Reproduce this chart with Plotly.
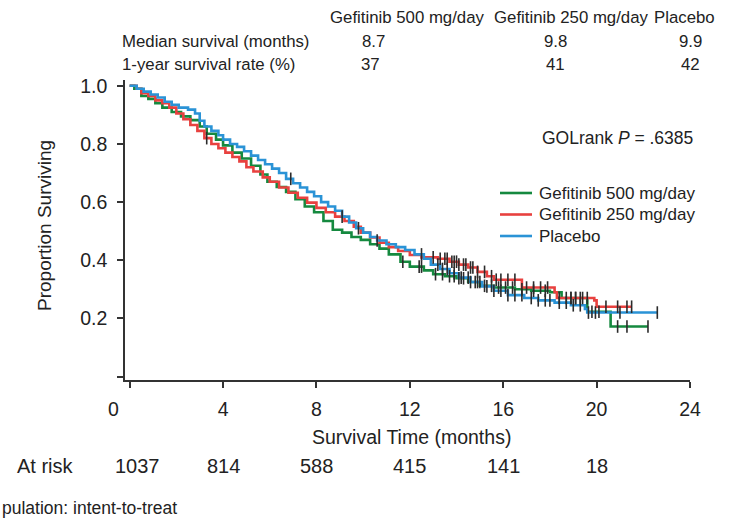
import numpy as np
import plotly.graph_objects as go

# Kaplan-Meier step data (months, proportion surviving)
t_500 = [0, 0.2, 0.5, 0.8, 1.1, 1.4, 1.8, 2.2, 2.6, 3.0, 3.3, 3.7, 4.0, 4.4, 4.8, 5.2,
         5.6, 5.9, 6.3, 6.7, 7.1, 7.5, 7.9, 8.3, 8.7, 9.1, 9.5, 9.9, 10.3, 10.7, 11.1,
         11.6, 12.0, 12.6, 13.0, 13.5, 14.0, 14.5, 15.0, 15.6, 16.5, 17.2, 18.0, 18.5,
         19.6, 20.6]
s_500 = [1.0, 0.99, 0.965, 0.955, 0.94, 0.925, 0.91, 0.895, 0.882, 0.86, 0.835, 0.815,
         0.795, 0.77, 0.75, 0.725, 0.695, 0.67, 0.652, 0.635, 0.61, 0.585, 0.565, 0.535,
         0.505, 0.495, 0.48, 0.47, 0.455, 0.44, 0.42, 0.395, 0.378, 0.365, 0.352, 0.345,
         0.338, 0.325, 0.312, 0.306, 0.30, 0.295, 0.29, 0.27, 0.223, 0.172]
end_500 = 22.2

t_250 = [0, 0.3, 0.5, 0.8, 1.1, 1.4, 1.7, 2.0, 2.3, 2.6, 2.9, 3.2, 3.5, 3.8, 4.1, 4.4,
         4.7, 5.0, 5.3, 5.7, 6.0, 6.4, 6.8, 7.2, 7.6, 8.0, 8.4, 8.8, 9.2, 9.6, 9.9, 10.3,
         10.7, 11.1, 11.5, 12.0, 12.5, 13.2, 13.7, 14.1, 14.5, 14.9, 15.3, 15.6, 16.8,
         18.2, 18.3, 19.9, 20.0]
s_250 = [1.0, 0.99, 0.975, 0.965, 0.95, 0.94, 0.925, 0.905, 0.885, 0.865, 0.845, 0.82,
         0.80, 0.785, 0.77, 0.755, 0.74, 0.72, 0.705, 0.685, 0.67, 0.65, 0.632, 0.615,
         0.598, 0.58, 0.565, 0.55, 0.535, 0.515, 0.495, 0.478, 0.46, 0.445, 0.432, 0.418,
         0.41, 0.405, 0.395, 0.385, 0.375, 0.36, 0.345, 0.333, 0.306, 0.29, 0.27, 0.262,
         0.24]
end_250 = 21.5

t_pla = [0, 0.3, 0.6, 0.9, 1.2, 1.5, 1.8, 2.1, 2.5, 2.8, 3.0, 3.2, 3.5, 3.8, 4.0, 4.3,
         4.6, 4.9, 5.2, 5.5, 5.8, 6.1, 6.4, 6.7, 7.0, 7.3, 7.6, 7.9, 8.2, 8.5, 8.8, 9.1,
         9.4, 9.7, 10.0, 10.3, 10.6, 11.0, 11.4, 11.8, 12.2, 12.6, 12.9, 13.3, 13.7, 14.1,
         14.6, 15.1, 15.6, 16.2, 16.9, 17.5, 18.2, 18.9, 19.5, 19.6]
s_pla = [1.0, 0.99, 0.98, 0.97, 0.96, 0.945, 0.935, 0.925, 0.918, 0.905, 0.88, 0.86,
         0.845, 0.83, 0.815, 0.80, 0.79, 0.775, 0.76, 0.745, 0.73, 0.715, 0.70, 0.68,
         0.665, 0.65, 0.635, 0.62, 0.60, 0.585, 0.57, 0.55, 0.53, 0.51, 0.495, 0.48,
         0.468, 0.455, 0.445, 0.435, 0.42, 0.405, 0.385, 0.37, 0.355, 0.34, 0.325, 0.31,
         0.295, 0.28, 0.27, 0.262, 0.254, 0.245, 0.232, 0.22]
end_pla = 22.6

# Censoring times (months)
c_500 = [11.7, 12.4, 12.5, 13.1, 13.4, 13.7, 13.9, 14.1, 14.3, 14.6, 14.9, 15.2, 15.5,
         15.8, 16.1, 16.4, 16.8, 17.3, 17.8, 18.7, 18.9, 19.1, 19.3, 19.8, 20.1, 20.9,
         21.3, 22.2]
c_250 = [3.3, 9.1, 13.0, 13.3, 13.5, 13.6, 13.8, 13.9, 14.0, 14.1, 14.3, 14.4, 14.6,
         14.7, 14.9, 15.2, 15.5, 15.7, 15.9, 16.2, 16.5, 17.0, 17.3, 17.6, 17.9, 18.4,
         18.9, 19.1, 19.4, 19.6, 20.4, 20.9, 21.3, 21.5]
c_pla = [6.9, 9.8, 10.6, 12.5, 13.2, 13.4, 13.6, 13.9, 14.2, 14.5, 14.8, 15.0, 15.3,
         15.6, 15.9, 16.2, 16.5, 16.8, 17.2, 17.5, 17.8, 18.0, 18.4, 18.7, 19.0, 19.3,
         19.65, 19.95, 21.0, 22.6]

arms = ["Gefitinib 500 mg/day", "Gefitinib 250 mg/day", "Placebo"]
median_surv = ["8.7", "9.8", "9.9"]
one_year = ["37", "41", "42"]
risk_times = [0, 4, 8, 12, 16, 20]
at_risk = [1037, 814, 588, 415, 141, 18]

x_ticks = [0, 4, 8, 12, 16, 20, 24]
y_ticks = [0, 0.2, 0.4, 0.6, 0.8, 1.0]

colors = ["#15893f", "#e8413f", "#2a93d6"]
FONT = "Liberation Sans, Arial, sans-serif"
INK = "#222222"

W, H = 745, 519
ML, MR, MT, MB = 125, 55, 80, 139
PW, PH = W - ML - MR, H - MT - MB


def px(x):
    return (x - ML) / PW


def py(y):
    return (H - MB - y) / PH


def step_xy(t, s, end):
    return list(t) + [end], list(s) + [s[-1]]


def censor_y(t, s, c):
    t = np.asarray(t)
    idx = np.searchsorted(t, np.asarray(c), side="right") - 1
    return np.asarray(s)[idx]


fig = go.Figure()
series = [(t_500, s_500, end_500, c_500), (t_250, s_250, end_250, c_250),
          (t_pla, s_pla, end_pla, c_pla)]
for name, col, (t, s, e, c) in zip(arms, colors, series):
    xs, ys = step_xy(t, s, e)
    fig.add_trace(go.Scatter(x=xs, y=ys, mode="lines", line_shape="hv",
                             line=dict(color=col, width=2.6), name=name,
                             showlegend=False))
for col, (t, s, e, c) in zip(colors, series):
    fig.add_trace(go.Scatter(x=c, y=censor_y(t, s, c), mode="markers", showlegend=False,
                             marker=dict(symbol="line-ns", size=9,
                                         line=dict(color="#2b2b2b", width=1.6))))


def text(x, y, s, size, anchor="center", **kw):
    return dict(x=px(x), y=py(y), xref="paper", yref="paper", text=s, xanchor=anchor,
                yanchor="middle", showarrow=False,
                font=dict(family=FONT, size=size, color=INK), **kw)


ann = []
TS = 16.8
# summary table above the plot
for label, xc in zip(arms, [407, 571, 684]):
    ann.append(text(xc, 18, label, TS))
ann.append(text(120, 42, "Median survival (months)", TS, "left"))
ann.append(text(120, 64, "1-year survival rate (%)", TS, "left"))
for v, xc in zip(median_surv, [373, 555, 690]):
    ann.append(text(xc, 42, v, TS))
for v, xc in zip(one_year, [370, 555, 690]):
    ann.append(text(xc, 64, v, TS))

ann.append(text(540, 138, "GOLrank <i>P</i> = .6385", 17.5, "left"))
ann.append(text(44, 226, "Proportion Surviving", 19, textangle=-90))
ann.append(text(411, 437, "Survival Time (months)", 19.5))
ann.append(text(113, 409, "0", 19.5))
ann.append(text(45, 466, "At risk", 20))
ann.append(text(0, 508, "pulation: intent-to-treat", 17.5, "left"))
for i, (tm, n) in enumerate(zip(risk_times, at_risk)):
    ann.append(dict(x=tm, xref="x", xshift=8 if i == 0 else 0, y=py(466), yref="paper",
                    text=str(n), xanchor="center", yanchor="middle", showarrow=False,
                    font=dict(family=FONT, size=20, color=INK)))

# legend drawn as line samples with labels
shapes = []
for name, col, ly in zip(arms, colors, [193, 214.5, 236]):
    shapes.append(dict(type="line", xref="paper", yref="paper", x0=px(500), x1=px(532),
                       y0=py(ly), y1=py(ly), line=dict(color=col, width=2.6)))
    ann.append(text(537, ly, name, 17, "left"))

axis_common = dict(showline=True, linecolor="#333333", linewidth=1.6, ticks="outside",
                   ticklen=6, tickwidth=1.6, tickcolor="#333333", showgrid=False,
                   zeroline=False, tickfont=dict(family=FONT, size=19.5, color=INK))

fig.update_layout(
    width=W, height=H, margin=dict(l=ML, r=MR, t=MT, b=MB),
    paper_bgcolor="white", plot_bgcolor="white",
    xaxis=dict(range=[-0.2, 24], tickvals=x_ticks,
               ticktext=[""] + [str(v) for v in x_ticks[1:]],
               ticklabelstandoff=5, **axis_common),
    yaxis=dict(range=[-0.012, 1.02], tickvals=y_ticks,
               ticktext=[""] + [f"{v:.1f}" for v in y_ticks[1:]],
               ticklabelstandoff=6, **axis_common),
    annotations=ann,
    shapes=shapes,
    showlegend=False,
)

fig.write_html("out.html")
